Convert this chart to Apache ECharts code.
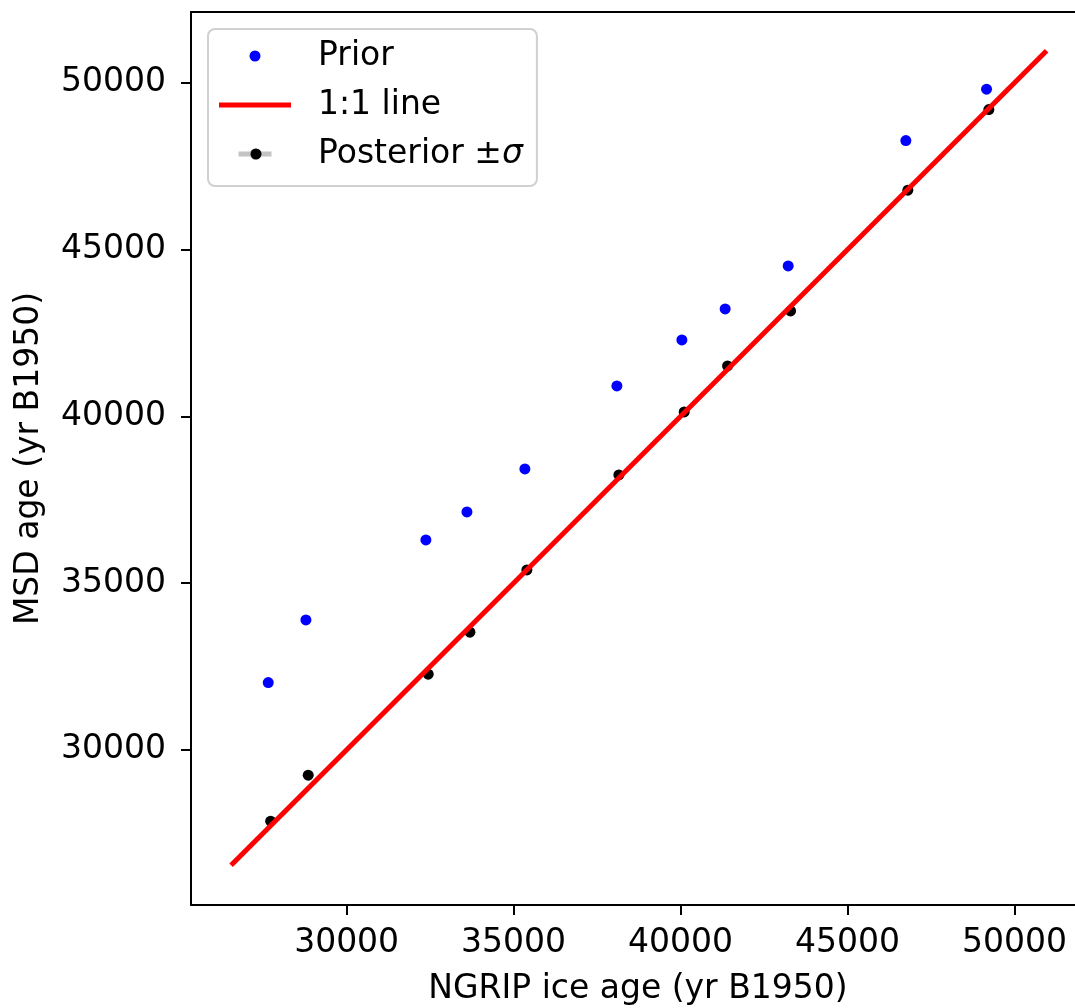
<!DOCTYPE html>
<html>
<head>
<meta charset="utf-8">
<script src="https://cdn.jsdelivr.net/npm/echarts@6/dist/echarts.min.js"></script>
<style>
  html, body { margin: 0; padding: 0; background: #fff; }
  #chart { width: 1075px; height: 1008px; }
</style>
</head>
<body>
<div id="chart"></div>
<script>
// NGRIP ice age (x) vs MSD age (y), years B1950
const priorX = [27653, 28781, 32374, 33603, 35338, 38093, 40039, 41335, 43222, 46746, 49162];
const priorY = [32018, 33897, 36295, 37134, 38423, 40911, 42290, 43219, 44508, 48265, 49805];
const postX = [27725, 28850, 32443, 33692, 35398, 38153, 40108, 41407, 43293, 46805, 49231];
const postY = [27863, 29242, 32269, 33528, 35396, 38243, 40132, 41511, 43159, 46778, 49194];
const oneToOne = [26540, 50960];
const tickValues = [30000, 35000, 40000, 45000, 50000];
const xRange = [25340, 52110];
const yRange = [25350, 52120];

const font = 'DejaVu Sans';
const chart = echarts.init(document.getElementById('chart'));

// axis styling shared by x and y
const axisCommon = {
  type: 'value',
  splitLine: { show: false },
  axisLine: { show: true, onZero: false, lineStyle: { color: '#000', width: 2 } },
  axisTick: { show: true, length: 10, lineStyle: { color: '#000', width: 2 }, customValues: tickValues },
  axisLabel: {
    color: '#000', fontFamily: font, fontSize: 33, margin: 22,
    customValues: tickValues, formatter: v => String(v)
  },
  nameLocation: 'middle',
  nameTextStyle: { color: '#000', fontFamily: font, fontSize: 33 }
};

chart.setOption({
  animation: false,
  backgroundColor: '#fff',
  // plot box runs a little past the right edge of the picture (right spine is cut off)
  grid: { left: 191, top: 12, width: 894, height: 893, outerBoundsMode: 'none', containLabel: false },
  xAxis: [
    Object.assign({}, axisCommon, {
      min: xRange[0], max: xRange[1], name: 'NGRIP ice age (yr B1950)', nameGap: 68
    }),
    {
      type: 'value', position: 'top', min: xRange[0], max: xRange[1],
      axisLine: { show: true, onZero: false, lineStyle: { color: '#000', width: 2 } },
      axisTick: { show: false }, axisLabel: { show: false }, splitLine: { show: false }
    }
  ],
  yAxis: Object.assign({}, axisCommon, {
    min: yRange[0], max: yRange[1], name: 'MSD age (yr B1950)', nameGap: 145,
    axisLabel: Object.assign({}, axisCommon.axisLabel, { margin: 25 })
  }),
  legend: {
    orient: 'vertical', left: 208, top: 29,
    padding: [8, 14, 13, 11],
    itemWidth: 72, itemHeight: 11, itemGap: 11,
    backgroundColor: '#fff', borderColor: '#d0d0d0', borderWidth: 2, borderRadius: 7,
    textStyle: {
      color: '#000', fontFamily: font, fontSize: 33, lineHeight: 38, padding: [0, 0, 0, 22],
      rich: { s: { fontStyle: 'italic', fontFamily: font, fontSize: 33, lineHeight: 38 } }
    },
    formatter: name => name === 'Posterior ±σ' ? 'Posterior ±{s|σ}' : name,
    data: [
      { name: 'Prior', icon: 'circle', itemStyle: { color: '#0000ff', opacity: 1 } },
      { name: '1:1 line', icon: 'path://M0,0H72V5H0Z', itemStyle: { color: '#ff0000', opacity: 1 } },
      // short grey error bar (with a disc under the black dot so it keeps its 33x11 size)
      {
        name: 'Posterior ±σ',
        icon: 'path://M0,3H33V8H0Z M22,5.5A5.5,5.5 0 1 1 11,5.5A5.5,5.5 0 1 1 22,5.5Z',
        itemStyle: { color: '#c4c4c4', opacity: 1 }
      }
    ]
  },
  // black dot on top of the grey error-bar legend icon
  graphic: [
    { type: 'circle', left: 250.5, top: 148.5, z: 100, shape: { r: 5.5 }, style: { fill: '#000' } }
  ],
  series: [
    {
      name: 'Prior', type: 'scatter', symbol: 'circle', symbolSize: 11,
      itemStyle: { color: '#0000ff', opacity: 1 },
      data: priorX.map((x, i) => [x, priorY[i]])
    },
    {
      name: '1:1 line', type: 'line', symbol: 'none', showSymbol: false,
      itemStyle: { color: '#ff0000' },
      lineStyle: { color: '#ff0000', width: 5 },
      data: oneToOne.map(v => [v, v])
    },
    {
      name: 'Posterior ±σ', type: 'scatter', symbol: 'circle', symbolSize: 11,
      itemStyle: { color: '#000', opacity: 1 },
      data: postX.map((x, i) => [x, postY[i]])
    }
  ]
});
</script>
</body>
</html>
